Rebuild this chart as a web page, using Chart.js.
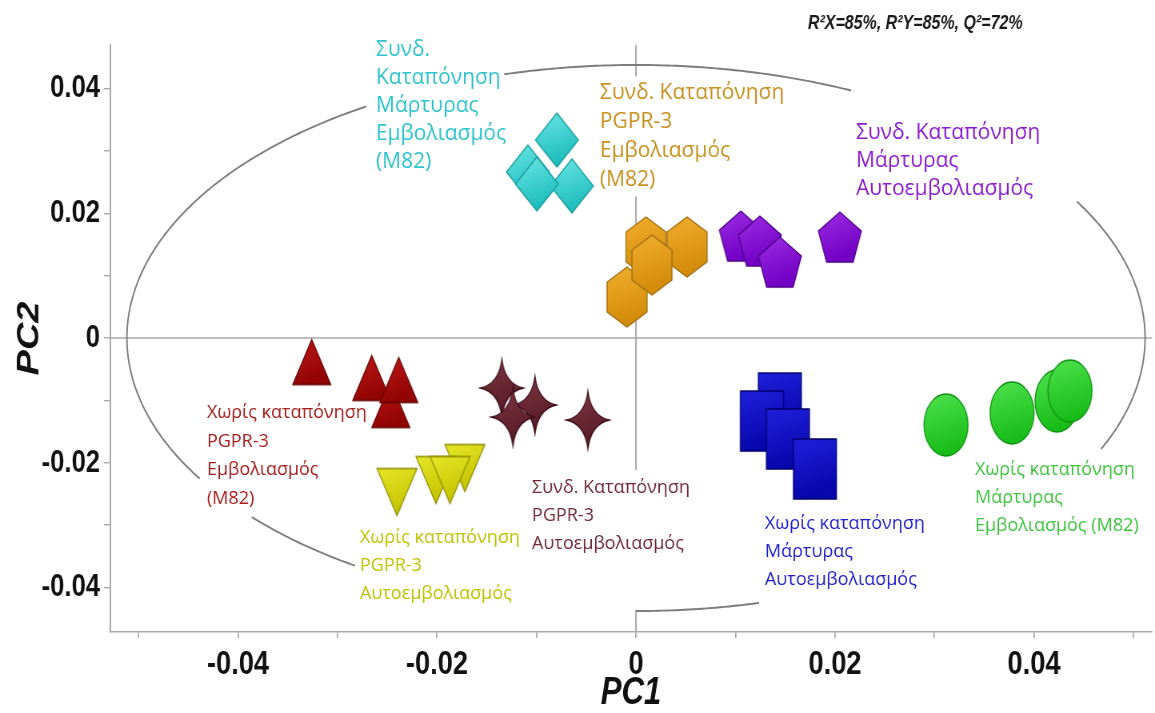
<!DOCTYPE html>
<html>
<head>
<meta charset="utf-8">
<script src="https://cdn.jsdelivr.net/npm/chart.js@4.4.1/dist/chart.umd.min.js"></script>
<style>
  html, body { margin: 0; padding: 0; background: #ffffff; overflow: hidden; }
  canvas { display: block; }
</style>
</head>
<body>
<canvas id="plot"></canvas>
<script>
// Score plot (PC1 vs PC2), eight treatment groups with four replicates each.

// Συνδ. Καταπόνηση / Μάρτυρας / Εμβολιασμός (M82)
const stressCtrlGraftPC1 = [-0.01085, -0.00794, -0.00643, -0.00995];
const stressCtrlGraftPC2 = [0.02661, 0.03174, 0.02437, 0.02469];
// Συνδ. Καταπόνηση / PGPR-3 / Εμβολιασμός (M82)
const stressPgprGraftPC1 = [0.00101, 0.00513, -0.00090, 0.00161];
const stressPgprGraftPC2 = [0.01459, 0.01459, 0.00657, 0.01170];
// Συνδ. Καταπόνηση / Μάρτυρας / Αυτοεμβολιασμός
const stressCtrlSelfPC1 = [0.01055, 0.01246, 0.01447, 0.02050];
const stressCtrlSelfPC2 = [0.01635, 0.01555, 0.01218, 0.01619];
// Χωρίς καταπόνηση / PGPR-3 / Εμβολιασμός (M82)
const plainPgprGraftPC1 = [-0.02462, -0.03256, -0.02653, -0.02382];
const plainPgprGraftPC2 = [-0.01074, -0.00385, -0.00641, -0.00673];
// Χωρίς καταπόνηση / PGPR-3 / Αυτοεμβολιασμός
const plainPgprSelfPC1 = [-0.01719, -0.02402, -0.02010, -0.01869];
const plainPgprSelfPC2 = [-0.02084, -0.02469, -0.02277, -0.02277];
// Συνδ. Καταπόνηση / PGPR-3 / Αυτοεμβολιασμός
const stressPgprSelfPC1 = [-0.01347, -0.01015, -0.01236, -0.00482];
const stressPgprSelfPC2 = [-0.00802, -0.01074, -0.01267, -0.01315];
// Χωρίς καταπόνηση / Μάρτυρας / Αυτοεμβολιασμός
const plainCtrlSelfPC1 = [0.01447, 0.01266, 0.01528, 0.01799];
const plainCtrlSelfPC2 = [-0.01042, -0.01331, -0.01619, -0.02100];
// Χωρίς καταπόνηση / Μάρτυρας / Εμβολιασμός (M82)
const plainCtrlGraftPC1 = [0.03116, 0.03779, 0.04231, 0.04362];
const plainCtrlGraftPC2 = [-0.01395, -0.01202, -0.01010, -0.00850];

// Group captions and where their first line sits (PC1, PC2)
const captionLines = [
  ['Συνδ.', 'Καταπόνηση', 'Μάρτυρας', 'Εμβολιασμός', '(M82)'],
  ['Συνδ. Καταπόνηση', 'PGPR-3', 'Εμβολιασμός', '(M82)'],
  ['Συνδ. Καταπόνηση', 'Μάρτυρας', 'Αυτοεμβολιασμός'],
  ['Χωρίς καταπόνηση', 'PGPR-3', 'Εμβολιασμός', '(M82)'],
  ['Χωρίς καταπόνηση', 'PGPR-3', 'Αυτοεμβολιασμός'],
  ['Συνδ. Καταπόνηση', 'PGPR-3', 'Αυτοεμβολιασμός'],
  ['Χωρίς καταπόνηση', 'Μάρτυρας', 'Αυτοεμβολιασμός'],
  ['Χωρίς καταπόνηση', 'Μάρτυρας', 'Εμβολιασμός (M82)']
];
const captionPC1 = [-0.02613, -0.00362, 0.02211, -0.04312, -0.02774, -0.01045, 0.01296, 0.03407];
const captionPC2 = [0.04617, 0.03928, 0.03287, -0.01202, -0.03206, -0.02405, -0.02982, -0.02116];

// Hotelling T2 ellipse semi-axes (PC1, PC2)
const ellipseAxes = [0.05116, 0.04377];
// Parts of the ellipse outline left uncovered by the captions (parametric angle, degrees)
const ellipseArcs = [[122, 211], [221, 236.5], [270, 284], [-24, 30], [65, 105]];

// Axis ranges
const pc1Range = [-0.05286, 0.05186];
const pc2Range = [-0.04713, 0.04697];

const modelStats = 'R²X=85%, R²Y=85%, Q²=72%';

// ---- page geometry: the plot is drawn wide and shown squeezed horizontally ----
const viewW = 1155, viewH = 713;
const squeeze = 0.8;
const stretch = 1 / squeeze;
const canvas = document.getElementById('plot');
canvas.width = Math.round(viewW * stretch);
canvas.height = viewH;
canvas.style.width = viewW + 'px';
canvas.style.height = viewH + 'px';

// ---- drawing styles (marker sizes in displayed pixels) ----
const groupStyles = [
  { shape: 'diamond',  w: 43, h: 54, top: '#6ae6e6', bottom: '#1ebcbc', edge: '#169c9c', text: '#2cc3cb', size: 21, gap: 28,   pad: [6, 4, 6, 4] },
  { shape: 'hexagon',  w: 40, h: 60, top: '#f0ae2c', bottom: '#d28a08', edge: '#9c6a10', text: '#c8901e', size: 21, gap: 29,   pad: [6, 2, 6, 2] },
  { shape: 'pentagon', w: 43, h: 50, top: '#9d2ee6', bottom: '#7300c4', edge: '#4f0088', text: '#8c1cd0', size: 21, gap: 28,   pad: [6, 4, 6, 4] },
  { shape: 'triUp',    w: 38, h: 45, top: '#c01818', bottom: '#920404', edge: '#640000', text: '#a51c1c', size: 18, gap: 28.5, pad: [6, 4, 6, 4] },
  { shape: 'triDown',  w: 40, h: 47, top: '#e6e628', bottom: '#c4c400', edge: '#8c8c00', text: '#bcc300', size: 18, gap: 28,   pad: [6, 4, 6, 4] },
  { shape: 'star4',    w: 43, h: 58, top: '#7e3644', bottom: '#571a26', edge: '#3a0e18', text: '#6e2a38', size: 18, gap: 28,   pad: [6, 4, 6, 52] },
  { shape: 'rect',     w: 43, h: 60, top: '#2020dc', bottom: '#0606ac', edge: '#00006a', text: '#1e1ecc', size: 18, gap: 28,   pad: [6, 4, 6, 4] },
  { shape: 'ellipse',  w: 44, h: 62, top: '#4ee24e', bottom: '#18bc18', edge: '#0f8f0f', text: '#3cc43c', size: 18, gap: 28,   pad: [6, 4, 6, 4] }
];

function makeMarker(s) {
  const p = 3;
  const w = s.w * stretch, h = s.h;
  const c = document.createElement('canvas');
  c.width = Math.ceil(w + p * 2);
  c.height = Math.ceil(h + p * 2);
  const g = c.getContext('2d');
  g.translate(p, p);
  g.beginPath();
  if (s.shape === 'diamond') {
    g.moveTo(w / 2, 0); g.lineTo(w, h / 2); g.lineTo(w / 2, h); g.lineTo(0, h / 2);
  } else if (s.shape === 'hexagon') {
    g.moveTo(w / 2, 0); g.lineTo(w, h / 4); g.lineTo(w, 3 * h / 4);
    g.lineTo(w / 2, h); g.lineTo(0, 3 * h / 4); g.lineTo(0, h / 4);
  } else if (s.shape === 'pentagon') {
    const pts = [[0, -1], [0.951, -0.309], [0.588, 0.809], [-0.588, 0.809], [-0.951, -0.309]];
    pts.forEach(([u, v], i) => {
      const px = (u + 0.951) / 1.902 * w, py = (v + 1) / 1.809 * h;
      i ? g.lineTo(px, py) : g.moveTo(px, py);
    });
  } else if (s.shape === 'triUp') {
    g.moveTo(w / 2, 0); g.lineTo(w, h); g.lineTo(0, h);
  } else if (s.shape === 'triDown') {
    g.moveTo(0, 0); g.lineTo(w, 0); g.lineTo(w / 2, h);
  } else if (s.shape === 'star4') {
    const cx = w / 2, cy = h / 2, kx = w * 0.07, ky = h * 0.07;
    g.moveTo(cx, 0);
    g.quadraticCurveTo(cx + kx, cy - ky, w, cy);
    g.quadraticCurveTo(cx + kx, cy + ky, cx, h);
    g.quadraticCurveTo(cx - kx, cy + ky, 0, cy);
    g.quadraticCurveTo(cx - kx, cy - ky, cx, 0);
  } else if (s.shape === 'rect') {
    g.rect(0, 0, w, h);
  } else {
    g.ellipse(w / 2, h / 2, w / 2, h / 2, 0, 0, Math.PI * 2);
  }
  g.closePath();
  const grad = g.createLinearGradient(0, 0, w * 0.3, h);
  grad.addColorStop(0, s.top);
  grad.addColorStop(1, s.bottom);
  g.fillStyle = grad;
  g.fill();
  g.lineWidth = 1.3;
  g.strokeStyle = s.edge;
  g.stroke();
  return c;
}

const groups = [
  [stressCtrlGraftPC1, stressCtrlGraftPC2],
  [stressPgprGraftPC1, stressPgprGraftPC2],
  [stressCtrlSelfPC1, stressCtrlSelfPC2],
  [plainPgprGraftPC1, plainPgprGraftPC2],
  [plainPgprSelfPC1, plainPgprSelfPC2],
  [stressPgprSelfPC1, stressPgprSelfPC2],
  [plainCtrlSelfPC1, plainCtrlSelfPC2],
  [plainCtrlGraftPC1, plainCtrlGraftPC2]
];

const datasets = groups.map(([xs, ys], i) => ({
  label: captionLines[i].join(' '),
  data: xs.map((v, k) => ({ x: v, y: ys[k] })),
  pointStyle: makeMarker(groupStyles[i]),
  pointRadius: 1,
  pointHoverRadius: 1,
  pointBorderWidth: 0
}));

const greekFont = '"Open Sans", "Noto Sans", sans-serif';
const axisFont = '"Liberation Sans", Arial, sans-serif';

// Caption block extents in canvas units (captions keep their natural width on screen)
function captionBox(ctx, i, xs, ys) {
  const s = groupStyles[i];
  ctx.font = `${s.size}px ${greekFont}`;
  const lines = captionLines[i];
  const x0 = xs.getPixelForValue(captionPC1[i]);
  const y0 = ys.getPixelForValue(captionPC2[i]);
  const wMax = Math.max(...lines.map(t => ctx.measureText(t).width)) * stretch;
  return {
    x0, y0, lines, s,
    left: x0 - s.pad[0] * stretch,
    top: y0 - s.gap / 2 - s.pad[1],
    right: x0 + wMax + s.pad[2] * stretch,
    bottom: y0 + (lines.length - 1) * s.gap + s.gap / 2 + s.pad[3]
  };
}

const decor = {
  id: 'decor',
  beforeDatasetsDraw(chart) {
    const { ctx, chartArea: a, scales: { x, y } } = chart;
    ctx.save();
    // zero reference lines
    ctx.strokeStyle = '#a9a9a9';
    const y0 = y.getPixelForValue(0), x0 = x.getPixelForValue(0);
    ctx.lineWidth = 1.6;
    ctx.beginPath();
    ctx.moveTo(a.left, y0); ctx.lineTo(a.right, y0);
    ctx.stroke();
    ctx.lineWidth = 1.6 * stretch;
    ctx.beginPath();
    ctx.moveTo(x0, a.top); ctx.lineTo(x0, a.bottom);
    ctx.stroke();
    // white caption backgrounds
    ctx.fillStyle = '#ffffff';
    captionLines.forEach((_, i) => {
      const b = captionBox(ctx, i, x, y);
      ctx.fillRect(b.left, b.top, b.right - b.left, b.bottom - b.top);
    });
    // Hotelling T2 ellipse
    ctx.strokeStyle = '#7c7c7c';
    ctx.lineWidth = 1.9;
    ellipseArcs.forEach(([t0, t1]) => {
      ctx.beginPath();
      for (let t = t0; t <= t1 + 1e-9; t += 0.5) {
        const r = t * Math.PI / 180;
        const px = x.getPixelForValue(ellipseAxes[0] * Math.cos(r));
        const py = y.getPixelForValue(ellipseAxes[1] * Math.sin(r));
        t === t0 ? ctx.moveTo(px, py) : ctx.lineTo(px, py);
      }
      ctx.stroke();
    });
    ctx.restore();
  },
  afterDatasetsDraw(chart) {
    const { ctx, scales: { x, y } } = chart;
    ctx.save();
    ctx.textAlign = 'left';
    ctx.textBaseline = 'middle';
    captionLines.forEach((_, i) => {
      const b = captionBox(ctx, i, x, y);
      ctx.fillStyle = b.s.text;
      b.lines.forEach((t, k) => {
        ctx.save();
        ctx.translate(b.x0, b.y0 + k * b.s.gap);
        ctx.scale(stretch, 1);
        ctx.fillText(t, 0, 0);
        ctx.restore();
      });
    });
    ctx.font = `italic bold 20px ${axisFont}`;
    ctx.fillStyle = '#1a1a1a';
    ctx.fillText(modelStats, 808 * stretch, 23);
    ctx.restore();
  }
};

function tickText(v) {
  const k = Math.round(v * 100);
  if (k % 2 !== 0) return '';
  return k === 0 ? '0' : (k / 100).toFixed(2);
}

new Chart(canvas, {
  type: 'scatter',
  data: { datasets },
  options: {
    responsive: false,
    animation: false,
    devicePixelRatio: 1,
    layout: { autoPadding: false, padding: { left: 0, right: 3 * stretch, top: 45, bottom: 0 } },
    plugins: { legend: { display: false }, tooltip: { enabled: false } },
    scales: {
      x: {
        type: 'linear',
        min: pc1Range[0], max: pc1Range[1],
        afterFit(s) { s.height = 81; s.paddingLeft = 0; s.paddingRight = 0; },
        ticks: {
          stepSize: 0.01, includeBounds: false, autoSkip: false, maxRotation: 0,
          callback: tickText, color: '#111', padding: 6,
          font: { family: axisFont, size: 34, weight: 'bold' }
        },
        grid: { drawOnChartArea: false, drawTicks: true, tickLength: 6, color: '#a9a9a9', lineWidth: 1.4 * stretch },
        border: { display: true, color: '#a9a9a9', width: 1.6 },
        title: {
          display: true, text: 'PC1', color: '#111', padding: { top: 0, bottom: -1 },
          font: { family: axisFont, size: 39, weight: 'bold', style: 'italic', lineHeight: 1.05 }
        }
      },
      y: {
        type: 'linear',
        min: pc2Range[0], max: pc2Range[1],
        afterFit(s) { s.width = 110 * stretch; },
        ticks: {
          stepSize: 0.01, includeBounds: false, autoSkip: false,
          callback: tickText, color: '#111', padding: 5,
          font: { family: axisFont, size: 32, weight: 'bold' }
        },
        grid: { drawOnChartArea: false, drawTicks: true, tickLength: 6 * stretch, color: '#a9a9a9', lineWidth: 1.4 },
        border: { display: true, color: '#a9a9a9', width: 1.6 * stretch },
        title: {
          display: true, text: 'PC2', color: '#111', padding: { top: 15, bottom: 0 },
          font: { family: axisFont, size: 38, weight: 'bold', style: 'italic', lineHeight: 1.2 }
        }
      }
    }
  },
  plugins: [decor]
});
</script>
</body>
</html>
